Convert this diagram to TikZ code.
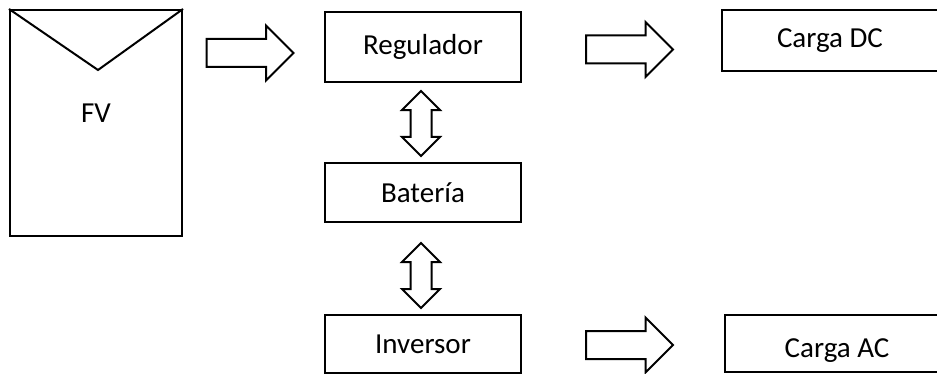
\documentclass[tikz,border=0pt]{standalone}
\usepackage{fontspec}
\setmainfont{Carlito}
\usepackage{tikz}
\usetikzlibrary{shapes.arrows}

\begin{document}
\begin{tikzpicture}[
    x=0.5pt, y=-0.5pt,
    % bloques rectangulares del sistema
    box/.style={
        draw, line width=1pt, inner sep=0pt,
        font=\fontsize{14.5pt}{17pt}\selectfont
    },
    % flechas huecas de potencia
    flow/.style={
        draw, line width=1pt, fill=white, inner xsep=0pt, inner ysep=6.5pt,
        shape=single arrow, single arrow tip angle=90,
        minimum height=43.5pt, minimum width=26.5pt,
        single arrow head extend=6.75pt
    },
    % flechas dobles (carga / descarga)
    swap/.style={
        draw, line width=1pt, fill=white, inner xsep=0pt, inner ysep=4.75pt,
        shape=double arrow, double arrow tip angle=90, rotate=90,
        minimum height=32.5pt, minimum width=18pt,
        double arrow head extend=4.25pt
    }
]
    \useasboundingbox (0,0) rectangle (937,374);

    % --- PANEL ---
    \node[box, minimum width=86pt, minimum height=113pt] (fv) at (96,123) {};
    \draw[line width=1pt] (fv.north west) -- (98,70) -- (fv.north east);
    \node[font=\fontsize{14.5pt}{17pt}\selectfont] (fvlabel) at (96,113) {FV};

    % --- COLUMNA CENTRAL ---
    \node[box, minimum width=98pt, minimum height=35pt] (reg) at (423,47) {Regulador};
    \node[box, minimum width=98pt, minimum height=29.5pt] (bat) at (423,192.5) {Batería};
    \node[box, minimum width=98pt, minimum height=29pt] (inv) at (423,344) {Inversor};

    % --- CARGAS ---
    \node[box, minimum width=108pt, minimum height=30.5pt] (dc) at (830,40.5) {Carga DC};
    \node[box, minimum width=112pt, minimum height=28.5pt,
          text height=13.5pt, text depth=0pt] (ac) at (837,343.5) {Carga AC};

    % --- FLECHAS ---
    \node[flow] (fvreg) at (243,53) {};
    \node[flow] (regdc) at (622.5,49.5) {};
    \node[flow] (invac) at (622.5,345) {};
    \node[swap] (regbat) at (421,123.5) {};
    \node[swap] (batinv) at (421,275.5) {};

\end{tikzpicture}
\end{document}
